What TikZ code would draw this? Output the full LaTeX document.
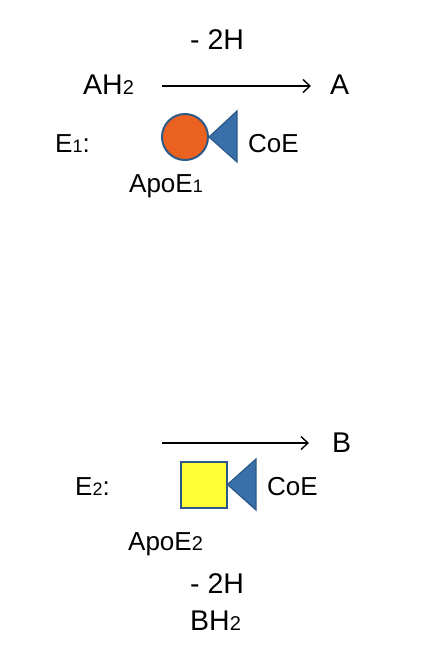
\documentclass[tikz,border=0pt]{standalone}
\usepackage{fontspec}
\setmainfont{Liberation Sans}
\usetikzlibrary{arrows.meta}
\definecolor{apoorange}{HTML}{EB6120}
\definecolor{coeblue}{HTML}{3A70AA}
\definecolor{edgeblue}{HTML}{2C5A88}
\definecolor{apoyellow}{HTML}{FFFF33}
\newcommand{\sbs}[1]{{\fontsize{18}{20}\selectfont #1}}
\newcommand{\sbl}[1]{{\fontsize{20}{22}\selectfont #1}}
\tikzset{
  lbl/.style={anchor=base west, inner sep=0pt, font=\fontsize{26}{30}\selectfont},
  big/.style={anchor=base west, inner sep=0pt, font=\fontsize{28.5}{32}\selectfont},
  rxn/.style={line width=1.4pt, -{Straight Barb[length=7pt,width=13pt,line width=1.4pt]}},
  apo/.style={draw=edgeblue, line width=2pt},
  coe/.style={fill=coeblue, draw=edgeblue, line width=1.2pt, line join=miter}
}
\begin{document}
\begin{tikzpicture}[x=1pt,y=-1pt]
\useasboundingbox (0,0) rectangle (441,672);
% top reaction
\node[big] (h1) at (190,49) {- 2H};
\node[big] (ah2) at (83,94) {AH\sbl{2}};
\node[big] (a) at (330,94) {A};
\coordinate (a1s) at (162,86);
\coordinate (a1e) at (311,86);
\draw[rxn] (a1s) -- (a1e);
\node[lbl] (e1) at (55,152) {E\sbs{1}:};
\node[apo, fill=apoorange, circle, minimum size=46pt, inner sep=0pt] (apo1) at (185,137) {};
\path[coe] (apo1.east) -- (237,111) -- (237,162) -- cycle;
\node[lbl] (coe1) at (248,152) {CoE};
\node[lbl] (apoe1) at (129,192) {ApoE\sbs{1}};
% bottom reaction
\coordinate (a2s) at (162,443);
\coordinate (a2e) at (309,443);
\draw[rxn] (a2s) -- (a2e);
\node[big] (b) at (332,452) {B};
\node[lbl] (e2) at (75,495) {E\sbs{2}:};
\node[apo, fill=apoyellow, rectangle, minimum size=46pt, inner sep=0pt] (apo2) at (203.5,484.5) {};
\path[coe] (apo2.east) -- (256,459) -- (256,510) -- cycle;
\node[lbl] (coe2) at (267,495) {CoE};
\node[lbl] (apoe2) at (128,550) {ApoE\sbl{2}};
\node[big] (h2) at (190,593) {- 2H};
\node[big] (bh2) at (190,630) {BH\sbl{2}};
\end{tikzpicture}
\end{document}
